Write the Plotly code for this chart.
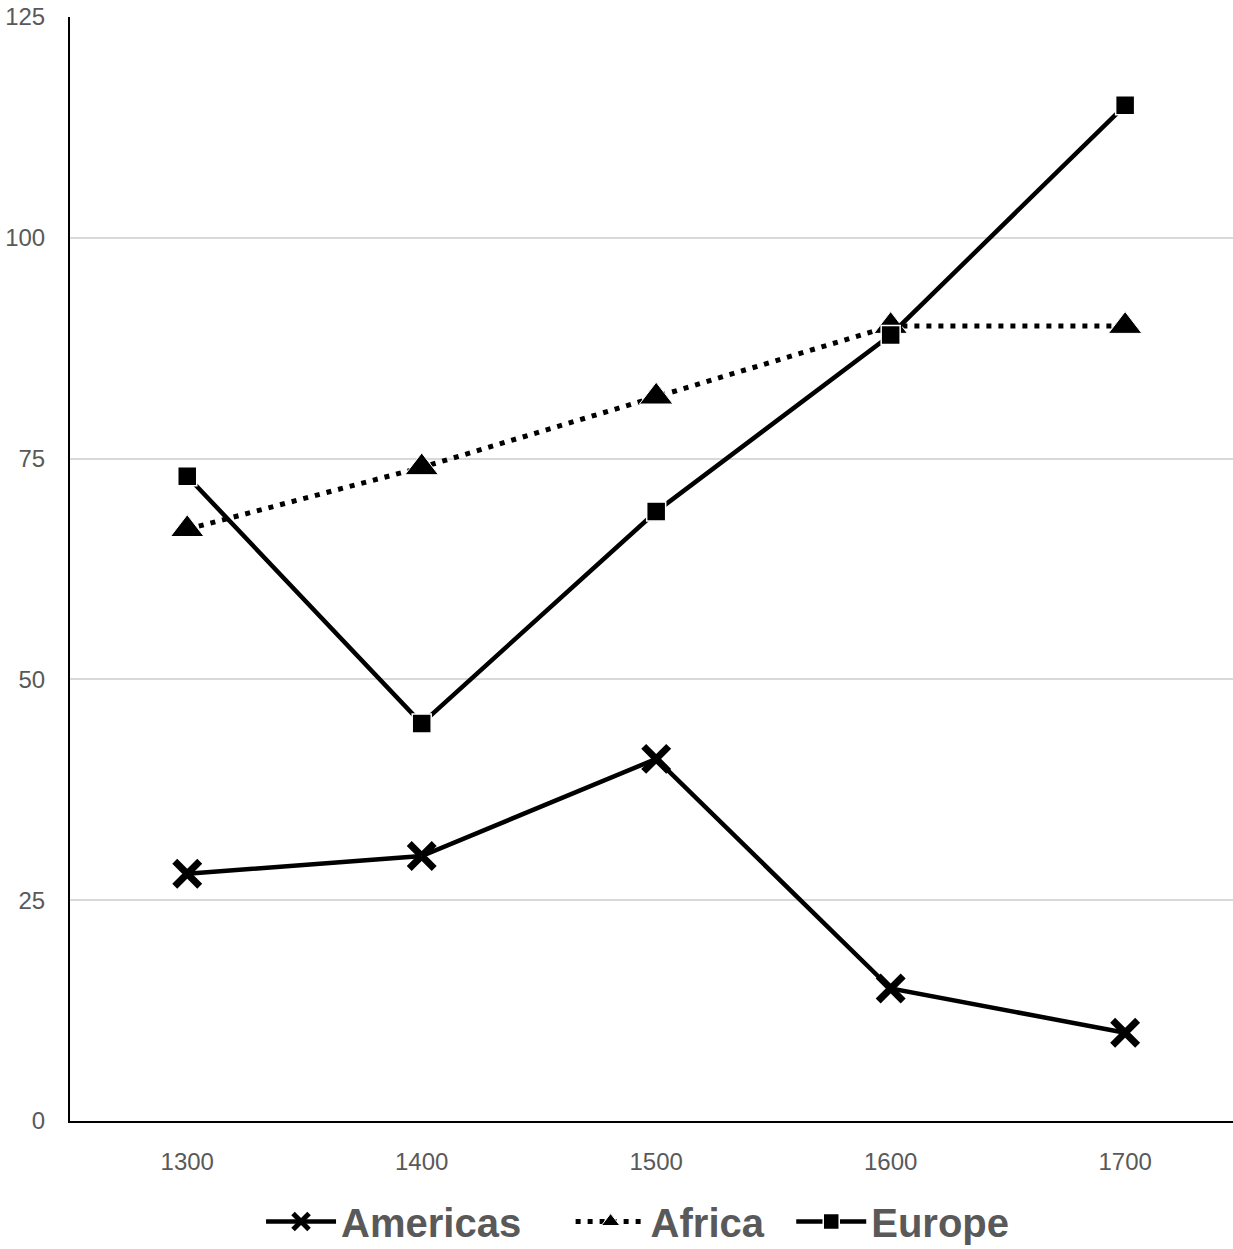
import plotly.graph_objects as go

# Centuries on the category axis and the value of each region per century
years = ["1300", "1400", "1500", "1600", "1700"]
americas = [28, 30, 41, 15, 10]
africa = [67, 74, 82, 90, 90]
europe = [73, 45, 69, 89, 115]
y_ticks = [0, 25, 50, 75, 100, 125]

x_pos = list(range(len(years)))
font_family = "Liberation Sans Narrow, Arial Narrow, Liberation Sans, Arial, sans-serif"
grey = "#595959"
pad = "\u00a0"  # non-breaking spaces widen the gaps between legend entries

fig = go.Figure()
fig.add_trace(go.Scatter(
    x=x_pos, y=americas, name="Americas" + pad * 4, mode="lines+markers",
    line=dict(color="black", width=4.5),
    marker=dict(symbol="x-thin", size=25, color="black",
                line=dict(color="black", width=7)),
))
fig.add_trace(go.Scatter(
    x=x_pos, y=africa, name="Africa" + pad * 2, mode="lines+markers",
    line=dict(color="black", width=5, dash="5px,7px"),
    marker=dict(symbol="triangle-up", size=29, color="black",
                line=dict(color="white", width=1)),
))
fig.add_trace(go.Scatter(
    x=x_pos, y=europe, name="Europe", mode="lines+markers",
    line=dict(color="black", width=4.5),
    marker=dict(symbol="square", size=19, color="black",
                line=dict(color="white", width=1.5)),
))

fig.update_layout(
    width=1233, height=1249,
    margin=dict(l=70, r=0, t=17, b=128),
    paper_bgcolor="white", plot_bgcolor="white",
    font=dict(family=font_family, color=grey, size=24),
    showlegend=True,
    legend=dict(
        orientation="h", x=0.488, xanchor="center",
        yref="container", y=0.022, yanchor="middle",
        font=dict(family=font_family, size=40, color=grey, weight="bold"),
        itemwidth=70, traceorder="normal",
    ),
    xaxis=dict(
        range=[-0.5, 4.46], tickvals=x_pos, ticktext=years,
        showgrid=False, zeroline=False,
        showline=True, linecolor="black", linewidth=2,
        ticks="", tickfont=dict(size=24, color=grey), ticklabelstandoff=18,
    ),
    yaxis=dict(
        range=[0, 125], tickvals=y_ticks,
        showgrid=True, gridcolor="#d9d9d9", gridwidth=2,
        zeroline=False, showline=True, linecolor="black", linewidth=2,
        ticks="", tickfont=dict(size=24, color=grey), ticklabelstandoff=18,
    ),
)

fig.write_html("out.html")
